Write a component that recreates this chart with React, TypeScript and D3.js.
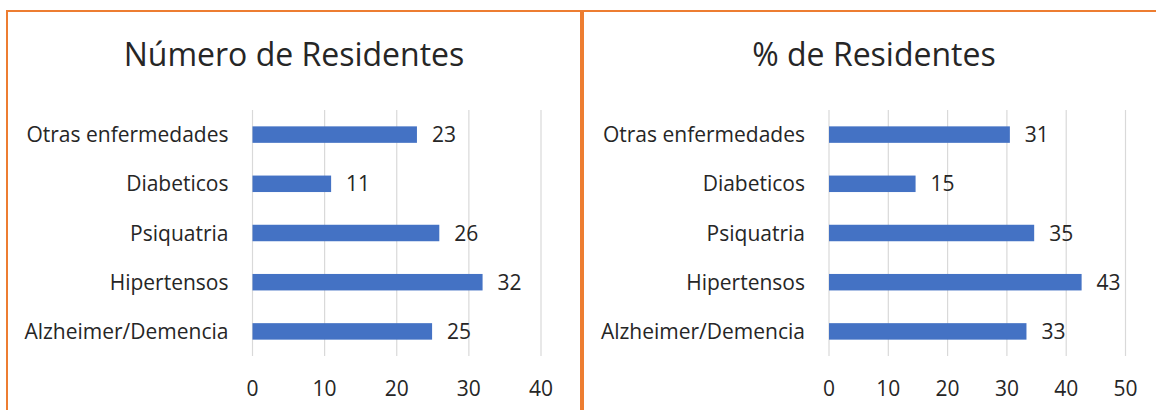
import React from "react";
import * as d3 from "d3";

const categories = ["Otras enfermedades", "Diabeticos", "Psiquatria", "Hipertensos", "Alzheimer/Demencia"];
const countValues = [22.8, 10.9, 25.9, 31.9, 24.9];
const percentValues = [30.5, 14.6, 34.6, 42.6, 33.3];
const countTicks = [0, 10, 20, 30, 40];
const percentTicks = [0, 10, 20, 30, 40, 50];
const titles = ["Número de Residentes", "% de Residentes"];

const FONT = "'Open Sans', Lato, sans-serif";
const ORANGE = "#ED7D31";
const BAR = "#4472C4";
const TEXT = "#262626";

type PanelProps = {
  title: string;
  values: number[];
  ticks: number[];
  x0: number;
  x1: number;
  titleX: number;
};

function Panel({ title, values, ticks, x0, x1, titleX }: PanelProps) {
  const max = ticks[ticks.length - 1];
  const x = d3.scaleLinear().domain([0, max]).range([x0, x1]);
  const y = d3.scaleBand<string>().domain(categories).range([110, 356]).paddingInner(0.665).paddingOuter(0.3325);
  return (
    <g>
      <text x={titleX} y={66} textAnchor="middle" fontFamily={FONT} fontSize={32} fill={TEXT}>
        {title}
      </text>
      {ticks.map((t) => (
        <line key={"g" + t} x1={x(t)} x2={x(t)} y1={110} y2={356} stroke="#d9d9d9" strokeWidth={1.2} />
      ))}
      {categories.map((c, i) => (
        <g key={c}>
          <rect x={x(0)} y={y(c)!} width={x(values[i]) - x(0)} height={y.bandwidth()} fill={BAR} />
          <text
            x={x(values[i]) + 15}
            y={y(c)! + y.bandwidth() / 2}
            dy="0.36em"
            fontFamily={FONT}
            fontSize={21}
            fill={TEXT}
          >
            {Math.round(values[i])}
          </text>
          <text
            x={x0 - 24}
            y={y(c)! + y.bandwidth() / 2}
            dy="0.36em"
            textAnchor="end"
            fontFamily={FONT}
            fontSize={21}
            fill={TEXT}
          >
            {c}
          </text>
        </g>
      ))}
      {ticks.map((t) => (
        <text key={"t" + t} x={x(t)} y={388} dy="0.36em" textAnchor="middle" fontFamily={FONT} fontSize={21} fill={TEXT}>
          {t}
        </text>
      ))}
    </g>
  );
}

export default function App() {
  return (
    <svg
      width={1156}
      height={410}
      style={{ position: "absolute", left: 0, top: 0, background: "#fff" }}
    >
      <rect x={0} y={0} width={1156} height={410} fill="#fff" />
      <rect x={7} y={11} width={574} height={430} fill="none" stroke={ORANGE} strokeWidth={2} />
      <rect x={583} y={11} width={600} height={430} fill="none" stroke={ORANGE} strokeWidth={2} />
      <Panel title={titles[0]} values={countValues} ticks={countTicks} x0={252.5} x1={541} titleX={294} />
      <Panel title={titles[1]} values={percentValues} ticks={percentTicks} x0={829} x1={1125.5} titleX={874} />
    </svg>
  );
}
